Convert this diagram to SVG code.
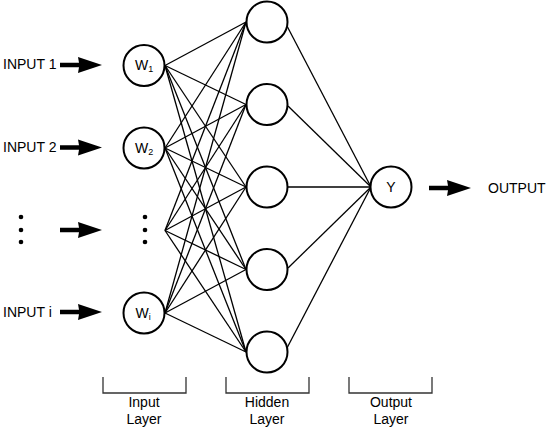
<svg xmlns="http://www.w3.org/2000/svg" xmlns:xlink="http://www.w3.org/1999/xlink" width="550" height="429" viewBox="0 0 550 429">
<style>
.node{fill:#fff;stroke:#000;stroke-width:2}
.lbl{font-family:"Liberation Sans",Arial,sans-serif;font-size:14px;fill:#000}
.conn line{stroke:#000;stroke-width:1.3}
.br{fill:none;stroke:#333;stroke-width:1.3}
.dot{fill:#000}
</style>
<defs>
<path id="arr" d="M0,-2.2 L19,-2.2 L18,-8 L42,0 L18,8 L19,2.2 L0,2.2 Z" fill="#000"/>
</defs>
<rect width="550" height="429" fill="#fff"/>
<g id="connectors" class="conn">
<line x1="165" y1="65.5" x2="246" y2="22"/>
<line x1="165" y1="65.5" x2="246" y2="104.5"/>
<line x1="165" y1="65.5" x2="246" y2="187"/>
<line x1="165" y1="65.5" x2="246" y2="269.5"/>
<line x1="165" y1="65.5" x2="246" y2="352"/>
<line x1="165" y1="148" x2="246" y2="22"/>
<line x1="165" y1="148" x2="246" y2="104.5"/>
<line x1="165" y1="148" x2="246" y2="187"/>
<line x1="165" y1="148" x2="246" y2="269.5"/>
<line x1="165" y1="148" x2="246" y2="352"/>
<line x1="165" y1="230.5" x2="246" y2="22"/>
<line x1="165" y1="230.5" x2="246" y2="104.5"/>
<line x1="165" y1="230.5" x2="246" y2="187"/>
<line x1="165" y1="230.5" x2="246" y2="269.5"/>
<line x1="165" y1="230.5" x2="246" y2="352"/>
<line x1="165" y1="313" x2="246" y2="22"/>
<line x1="165" y1="313" x2="246" y2="104.5"/>
<line x1="165" y1="313" x2="246" y2="187"/>
<line x1="165" y1="313" x2="246" y2="269.5"/>
<line x1="165" y1="313" x2="246" y2="352"/>
<line x1="287" y1="26" x2="371" y2="187"/>
<line x1="288" y1="106" x2="371" y2="187"/>
<line x1="288" y1="187" x2="371" y2="187"/>
<line x1="288" y1="268" x2="371" y2="187"/>
<line x1="287" y1="348" x2="371" y2="187"/>
</g>
<g id="input-labels">
<text class="lbl" x="3" y="69">INPUT 1</text>
<text class="lbl" x="3" y="152">INPUT 2</text>
<text class="lbl" x="3" y="317">INPUT i</text>
<circle class="dot" cx="21" cy="217" r="2.3"/>
<circle class="dot" cx="21" cy="230" r="2.3"/>
<circle class="dot" cx="21" cy="242" r="2.3"/>
</g>
<g id="input-arrows">
<use xlink:href="#arr" x="60" y="65"/>
<use xlink:href="#arr" x="60" y="147.5"/>
<use xlink:href="#arr" x="60" y="230"/>
<use xlink:href="#arr" x="60" y="312"/>
</g>
<g id="w1"><circle class="node" cx="144" cy="65.5" r="20.5"/><text class="lbl" x="135" y="70">W<tspan font-size="9" dy="2">1</tspan></text></g>
<g id="w2"><circle class="node" cx="144" cy="148" r="20.5"/><text class="lbl" x="135" y="152.5">W<tspan font-size="9" dy="2">2</tspan></text></g>
<g id="wdots"><circle class="dot" cx="145" cy="217" r="2.3"/><circle class="dot" cx="145" cy="230" r="2.3"/><circle class="dot" cx="145" cy="242" r="2.3"/></g>
<g id="wi"><circle class="node" cx="144" cy="313" r="20.5"/><text class="lbl" x="135.5" y="317.5">W<tspan font-size="9" dy="2">i</tspan></text></g>
<g id="h1"><circle class="node" cx="267" cy="22" r="20.5"/></g>
<g id="h2"><circle class="node" cx="267" cy="104.5" r="20.5"/></g>
<g id="h3"><circle class="node" cx="267" cy="187" r="20.5"/></g>
<g id="h4"><circle class="node" cx="267" cy="269.5" r="20.5"/></g>
<g id="h5"><circle class="node" cx="267" cy="352" r="20.5"/></g>
<g id="y"><circle class="node" cx="391" cy="187" r="20.5"/><text class="lbl" x="391" y="192" text-anchor="middle">Y</text></g>
<g id="output">
<use xlink:href="#arr" x="429" y="188"/>
<text class="lbl" x="488" y="193">OUTPUT</text>
</g>
<g id="brackets">
<path class="br" d="M103,377 V393 H186 V377"/>
<path class="br" d="M226,377 V393 H309 V377"/>
<path class="br" d="M349,377 V393 H432 V377"/>
<text class="lbl" x="144" y="407" text-anchor="middle">Input</text>
<text class="lbl" x="144" y="424" text-anchor="middle">Layer</text>
<text class="lbl" x="267" y="407" text-anchor="middle">Hidden</text>
<text class="lbl" x="267" y="424" text-anchor="middle">Layer</text>
<text class="lbl" x="391" y="407" text-anchor="middle">Output</text>
<text class="lbl" x="391" y="424" text-anchor="middle">Layer</text>
</g>
</svg>
